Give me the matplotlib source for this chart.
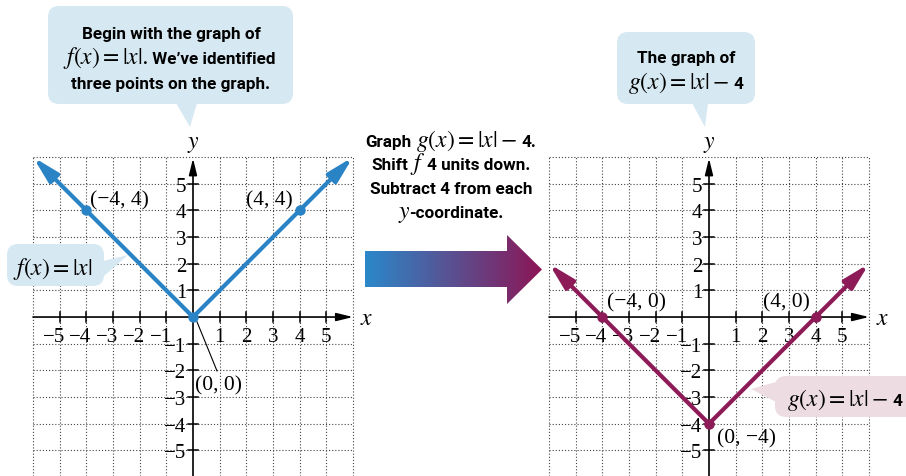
import matplotlib
matplotlib.use("Agg")
import matplotlib.pyplot as plt
import numpy as np
from matplotlib.patches import FancyBboxPatch, Polygon

plt.rcParams['mathtext.fontset'] = 'stix'
SERIF = ['Liberation Serif', 'DejaVu Serif']

# --- data ---
f_x = [-6, -4, 0, 4, 6]
f_y = [6, 4, 0, 4, 6]
g_x = [-6, -4, 0, 4, 6]
g_y = [2, 0, -4, 0, 2]
f_pts_x = [-4, 0, 4]
f_pts_y = [4, 0, 4]
g_pts_x = [-4, 0, 4]
g_pts_y = [0, -4, 0]
f_labels = ['(\u22124, 4)', '(0, 0)', '(4, 4)']
g_labels = ['(\u22124, 0)', '(0, \u22124)', '(4, 0)']
tick_vals = [-5, -4, -3, -2, -1, 1, 2, 3, 4, 5]
grid_vals = [-6, -5, -4, -3, -2, -1, 1, 2, 3, 4, 5, 6]

BLUE = '#2a83c5'
PLUM = '#8c1b57'
BOX_BLUE = '#d6e8f1'
BOX_PINK = '#eddde3'
Y_BOT = -5.96

fig = plt.figure(figsize=(9.06, 4.77), dpi=100)
W, H = 906.0, 477.0


def plane(left_px, line_x, line_y, pts_x, pts_y, color, labels, label_pos, label_ha):
    ax = fig.add_axes([left_px / W, 0, 320 / W, 319 / H])
    ax.set_xlim(-6, 6)
    ax.set_ylim(Y_BOT, 6)
    ax.axis('off')
    dot = dict(ls=(0, (1, 1.8)), color='#444444', lw=0.8, clip_on=False)
    for v in grid_vals:
        ax.plot([v, v], [Y_BOT, 6], **dot)
        if v > Y_BOT:
            ax.plot([-6, 6], [v, v], **dot)
    # axes with arrows
    ax_arrow = dict(arrowstyle='-|>,head_length=0.9,head_width=0.22', color='black',
                    lw=1.2, shrinkA=0, shrinkB=0, mutation_scale=11)
    ax.annotate('', xy=(6.0, 0), xytext=(-6, 0), arrowprops=ax_arrow, annotation_clip=False)
    ax.annotate('', xy=(0, 5.95), xytext=(0, Y_BOT), arrowprops=ax_arrow, annotation_clip=False)
    for t in tick_vals:
        ax.plot([t, t], [-0.2, 0.2], color='black', lw=1.1)
        ax.plot([-0.2, 0.2], [t, t], color='black', lw=1.1)
        lab = f'{t}'.replace('-', '\u2212')
        if t < 0:
            ax.text(t + 0.2, -0.38, lab, ha='right', va='top', fontsize=15, family=SERIF)
        else:
            ax.text(t, -0.38, lab, ha='center', va='top', fontsize=15, family=SERIF)
        ax.text(-0.25, t, lab, ha='right', va='center_baseline', fontsize=15, family=SERIF)
    ax.text(0, 6.55, '$y$', ha='center', va='center', fontsize=17)
    ax.text(6.25, 0, '$x$', ha='left', va='center', fontsize=17)
    # graph line with arrowheads
    ax.plot(line_x[1:-1], line_y[1:-1], color=color, lw=3, solid_joinstyle='miter', zorder=4)
    head = dict(arrowstyle='-|>,head_length=1.2,head_width=0.3', color=color, lw=3,
                shrinkA=0, shrinkB=0, mutation_scale=13)
    ax.annotate('', xy=(line_x[0], line_y[0]), xytext=(line_x[1], line_y[1]),
                arrowprops=head, annotation_clip=False, zorder=4)
    ax.annotate('', xy=(line_x[-1], line_y[-1]), xytext=(line_x[-2], line_y[-2]),
                arrowprops=head, annotation_clip=False, zorder=4)
    ax.plot(pts_x, pts_y, 'o', color=color, ms=6.5, zorder=5)
    for lab, (lx, ly), ha in zip(labels, label_pos, label_ha):
        ax.text(lx, ly, lab, ha=ha, va='center_baseline', fontsize=15.5, family=SERIF)
    return ax


axf = plane(33, f_x, f_y, f_pts_x, f_pts_y, BLUE, f_labels,
            [(-3.86, 4.5), (0.08, -2.45), (3.75, 4.5)], ['left', 'left', 'right'])
axf.plot([0.15, 0.9], [-0.18, -2.02], color='black', lw=0.8)
axg = plane(549, g_x, g_y, g_pts_x, g_pts_y, PLUM, g_labels,
            [(-3.83, 0.65), (0.3, -4.45), (3.8, 0.65)], ['left', 'left', 'right'])

# --- overlay in pixel coordinates for callouts and the shift arrow ---
ov = fig.add_axes([0, 0, 1, 1])
ov.axis('off')
ov.set_xlim(0, W)
ov.set_ylim(H, 0)
renderer = fig.canvas.get_renderer()

B = dict(fontsize=12.3, weight='bold', family=['Roboto', 'DejaVu Sans'])
M = dict(fontsize=17)
SP = 4.5


def rich(x, y, parts, ha='center'):
    # parts: (text, props, gap after in px); laid out left to right on one baseline
    objs = [ov.text(0, y, s, va='baseline', ha='left', **kw) for s, kw, _ in parts]
    widths = [o.get_window_extent(renderer).width for o in objs]
    total = sum(widths) + sum(g for _, _, g in parts[:-1])
    pos = x - total / 2 if ha == 'center' else x
    for o, w, (_, _, g) in zip(objs, widths, parts):
        o.set_x(pos)
        pos += w + g


def callout(x0, y0, x1, y1, pointer, color):
    ov.add_patch(FancyBboxPatch((x0, y0), x1 - x0, y1 - y0,
                                boxstyle='round,pad=0,rounding_size=11', fc=color, ec='none'))
    ov.add_patch(Polygon(pointer, closed=True, fc=color, ec='none'))


callout(48, 7, 293, 105, [(176, 104), (197, 104), (190, 128)], BOX_BLUE)
rich(171, 39, [('Begin with the graph of', B, 0)])
rich(169, 64, [('$f(x) = |x|$', M, 0), ('. We\u2019ve identified', B, 0)])
rich(171, 89, [('three points on the graph.', B, 0)])

callout(617, 33, 755, 105, [(692, 104), (708, 104), (705, 128)], BOX_BLUE)
rich(686, 63, [('The graph of', B, 0)])
rich(686, 89, [('$g(x) = |x| -$', M, SP), ('4', B, 0)])

callout(7, 245, 104, 287, [(103, 262), (103, 278), (128, 256)], BOX_BLUE)
rich(53, 275, [('$f(x) = |x|$', M, 0)])

callout(775, 377, 930, 418, [(776, 383), (776, 403), (751, 390)], BOX_PINK)
rich(787, 406, [('$g(x) = |x| -$', M, SP), ('4', B, 0)], ha='left')

rich(451, 147, [('Graph', B, SP), ('$g(x) = |x| -$', M, SP), ('4.', B, 0)])
rich(451, 170, [('Shift', B, 1.5), ('$f$', M, 1.5), ('4 units down.', B, 0)])
rich(451, 194, [('Subtract 4 from each', B, 0)])
rich(451, 218, [('$y$', M, -1), ('-coordinate.', B, 0)])

# gradient arrow
arrow_pts = [(365, 252), (507, 252), (507, 236), (542, 270.5), (507, 305), (507, 288), (365, 288)]
c0 = np.array(matplotlib.colors.to_rgb('#2a88ca'))
c1 = np.array(matplotlib.colors.to_rgb('#8c1656'))
tt = np.linspace(0, 1, 256)[:, None]
grad = (c0 * (1 - tt) + c1 * tt)[None, :, :]
poly = Polygon(arrow_pts, closed=True, fc='none', ec='none')
ov.add_patch(poly)
im = ov.imshow(grad, extent=(365, 542, 305, 236), aspect='auto', interpolation='bilinear')
im.set_clip_path(poly)

ov.set_xlim(0, W)
ov.set_ylim(H, 0)

fig.savefig('out.png', dpi=100)
